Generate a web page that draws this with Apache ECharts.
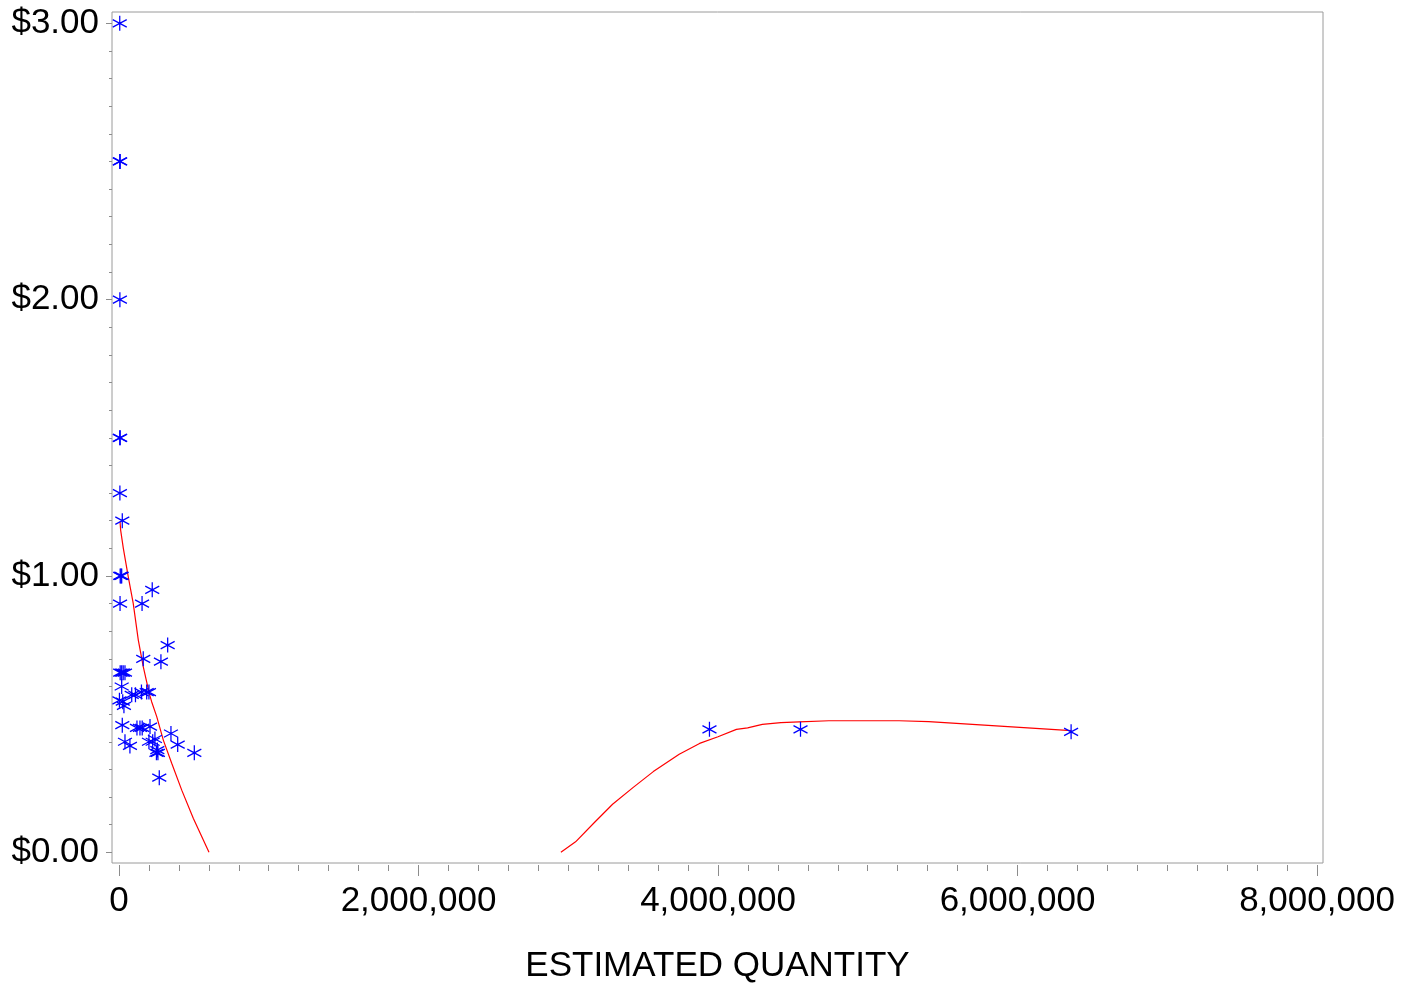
<!DOCTYPE html>
<html>
<head>
<meta charset="utf-8">
<style>
  html, body { margin: 0; padding: 0; background: #fff; }
  #chart { width: 1409px; height: 984px; }
</style>
<script src="https://cdn.jsdelivr.net/npm/echarts@6/dist/echarts.min.js"></script>
</head>
<body>
<div id="chart"></div>
<script>
// ---- Data ----
const obsQty = [
  5000, 5000, 8000, 6000, 5000, 8000, 6000, 22000,
  8000, 13000, 18000,
  222000,
  7000, 154000,
  325000,
  162000, 280000,
  8000, 18000, 28000, 40000,
  18000,
  85000, 110000, 150000, 185000, 200000,
  3000, 25000, 33000,
  22000,
  120000, 140000, 155000, 207000,
  347000,
  40000, 73000,
  200000, 225000, 240000,
  392000,
  250000, 260000, 256000,
  503000,
  269000,
  3943000, 4551000, 6358000
];
const obsPrice = [
  3.00, 2.50, 2.50, 2.00, 1.50, 1.50, 1.30, 1.20,
  1.00, 1.00, 1.00,
  0.95,
  0.90, 0.90,
  0.75,
  0.70, 0.69,
  0.65, 0.65, 0.65, 0.65,
  0.60,
  0.57, 0.57, 0.58, 0.58, 0.58,
  0.55, 0.545, 0.53,
  0.46,
  0.45, 0.45, 0.45, 0.455,
  0.43,
  0.40, 0.385,
  0.40, 0.40, 0.41,
  0.39,
  0.36, 0.36, 0.37,
  0.36,
  0.27,
  0.445, 0.445, 0.436
];

const fitLowQty   = [7000, 11000, 29000, 62000, 95000, 129000, 162000, 202000, 218000, 252000, 296000, 352000, 419000, 496000, 601000];
const fitLowPrice = [1.196, 1.166, 1.100, 0.997, 0.901, 0.768, 0.672, 0.575, 0.545, 0.491, 0.406, 0.322, 0.225, 0.123, 0.0];

const fitHighQty   = [2951000, 3049000, 3173000, 3296000, 3432000, 3568000, 3741000, 3877000, 4000000, 4123000, 4198000, 4296000, 4420000, 4543000, 4741000, 5210000, 5407000, 5778000, 6358000];
const fitHighPrice = [0.0, 0.038, 0.107, 0.174, 0.234, 0.292, 0.355, 0.394, 0.418, 0.445, 0.450, 0.463, 0.469, 0.472, 0.476, 0.476, 0.473, 0.460, 0.440];

const xTickValues = [0, 2000000, 4000000, 6000000, 8000000];
const yTickValues = [0, 1, 2, 3];
const xTitle = 'ESTIMATED QUANTITY';

// ---- Build ----
const xMinor = [];
for (let i = 0; i <= 40; i++) xMinor.push(i * 200000);
const yMinor = [];
for (let i = 0; i <= 30; i++) yMinor.push(Math.round(i * 10) / 100);

const zip = (a, b) => a.map((v, i) => [v, b[i]]);

const FONT = "'Liberation Sans', Arial, sans-serif";
const AX = '#8c8c8c';
const X_MIN = -46700, X_MAX = 8040100;
const Y_MIN = -0.0387, Y_MAX = 3.0409;

const starPath = 'path://M0,-7L0,7M-6,-3.5L6,3.5M-6,3.5L6,-3.5';

const chart = echarts.init(document.getElementById('chart'), null, { renderer: 'canvas' });
chart.setOption({
  animation: false,
  backgroundColor: '#ffffff',
  grid: {
    left: 112, top: 12, width: 1211, height: 851,
    containLabel: false, outerBoundsMode: 'none',
    show: true, borderColor: '#9a9a9a', borderWidth: 1, backgroundColor: 'transparent'
  },
  xAxis: [
    {
      type: 'value', min: X_MIN, max: X_MAX, position: 'bottom', offset: 2,
      axisLine: { show: false, onZero: false },
      splitLine: { show: false },
      axisTick: { show: true, customValues: xTickValues, length: 11, lineStyle: { color: AX, width: 1 } },
      axisLabel: {
        customValues: xTickValues, margin: 19, fontSize: 35, color: '#000', fontFamily: FONT,
        formatter: v => Number(v).toLocaleString('en-US')
      },
      name: xTitle, nameLocation: 'middle', nameGap: 84,
      nameTextStyle: { fontSize: 35, color: '#000', fontFamily: FONT }
    },
    {
      type: 'value', min: X_MIN, max: X_MAX, position: 'bottom', offset: 2,
      axisLine: { show: false, onZero: false },
      splitLine: { show: false },
      axisTick: { show: true, customValues: xMinor, length: 6, lineStyle: { color: AX, width: 1 } },
      axisLabel: { show: false }
    }
  ],
  yAxis: [
    {
      type: 'value', min: Y_MIN, max: Y_MAX, position: 'left', offset: 0,
      axisLine: { show: false, onZero: false },
      splitLine: { show: false },
      axisTick: { show: true, customValues: yTickValues, length: 6, lineStyle: { color: AX, width: 1 } },
      axisLabel: {
        customValues: yTickValues, margin: 13, fontSize: 35, color: '#000', fontFamily: FONT,
        formatter: v => '$' + Number(v).toFixed(2)
      }
    },
    {
      type: 'value', min: Y_MIN, max: Y_MAX, position: 'left', offset: 0,
      axisLine: { show: false, onZero: false },
      splitLine: { show: false },
      axisTick: { show: true, customValues: yMinor, length: 3, lineStyle: { color: AX, width: 1 } },
      axisLabel: { show: false }
    }
  ],
  series: [
    {
      type: 'line', xAxisIndex: 0, yAxisIndex: 0,
      data: zip(fitLowQty, fitLowPrice),
      showSymbol: false, symbol: 'none', smooth: false,
      lineStyle: { color: '#ff0000', width: 1.2 }, z: 3
    },
    {
      type: 'line', xAxisIndex: 0, yAxisIndex: 0,
      data: zip(fitHighQty, fitHighPrice),
      showSymbol: false, symbol: 'none', smooth: false,
      lineStyle: { color: '#ff0000', width: 1.2 }, z: 3
    },
    {
      type: 'scatter', xAxisIndex: 0, yAxisIndex: 0,
      data: zip(obsQty, obsPrice),
      symbol: starPath, symbolSize: [14, 15],
      itemStyle: { color: 'rgba(0,0,0,0)', borderColor: '#0000ff', borderWidth: 1.3, opacity: 1 },
      z: 4
    }
  ]
});
</script>
</body>
</html>
